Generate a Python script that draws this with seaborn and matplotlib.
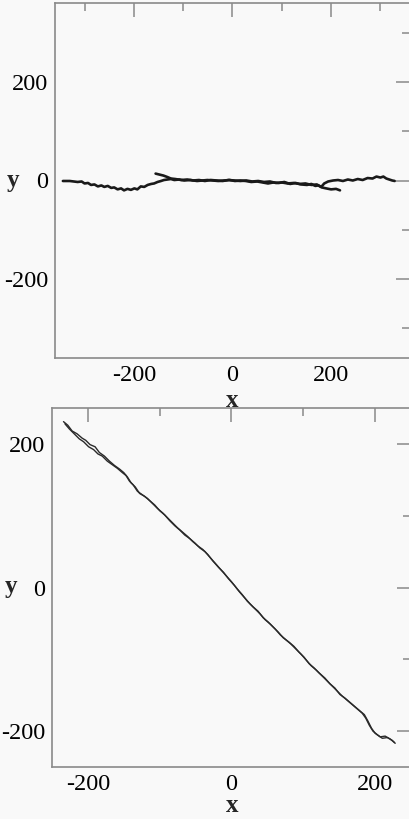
import numpy as np
import pandas as pd
import matplotlib
matplotlib.use("Agg")
import matplotlib.pyplot as plt
import seaborn as sns
from matplotlib.ticker import MultipleLocator

# ---- data: top panel (two strands lying along y ~ 0) ----
top_a_x = [-344, -330, -314, -306, -300, -293, -287, -280, -273, -266, -260, -253, -246, -240,
           -233, -226, -220, -213, -206, -199, -193, -186, -179, -172, -165, -159, -152, -145,
           -139, -132, -125, -118, -108, -98, -85, -72, -61, -51, -40, -29, -17, -6, 5, 16,
           27, 38, 50, 61, 72, 83, 94, 105, 117, 128, 139, 151, 160, 168, 174, 181, 190, 200, 210, 218]
top_a_y = [-1, -1, -3, -2, -6, -5, -9, -8, -12, -10, -13, -11, -15, -14,
           -18, -16, -20, -17, -19, -16, -18, -12, -13, -9, -7, -6, -3, -1,
           1, 2, 3, 1, 2, 0, 1, -1, 0, 1, 0, -1, 0, 1, -1, 0,
           -1, -3, -2, -4, -6, -4, -5, -3, -7, -5, -8, -9, -7, -11, -10, -14, -16, -18, -17, -20]
top_b_x = [-156, -148, -140, -132, -125, -116, -104, -92, -80, -68, -56, -44, -32, -20, -8, 4,
           16, 28, 40, 52, 64, 76, 88, 100, 112, 124, 136, 148, 160, 171, 180, 186, 194, 204,
           214, 224, 234, 244, 254, 264, 274, 284, 292, 300, 306, 312, 318, 324, 329]
top_b_y = [14, 12, 10, 7, 4, 3, 1, 2, 0, 1, -1, 1, 0, -1, 1, 0,
           -1, 0, -2, -1, -3, -2, -5, -4, -6, -5, -7, -6, -9, -8, -13, -6, -2, 0,
           1, -1, 2, 0, 3, 1, 5, 4, 8, 6, 8, 4, 2, 0, -1]

# ---- data: bottom panel (two strands along the diagonal) ----
bot_a_x = [-234, -228, -222, -215, -208, -203, -197, -190, -184, -177, -170, -163, -156, -150,
           -145, -140, -134, -128, -121, -114, -107, -100, -93, -86, -79, -72, -65, -58, -51,
           -44, -37, -30, -22, -15, -8, 0, 8, 15, 22, 30, 37, 44, 51, 58, 65, 72, 80, 87, 94,
           101, 108, 115, 122, 130, 137, 144, 151, 158, 165, 172, 179, 185, 190, 195, 200, 207,
           214, 221, 227]
bot_a_y = [231, 226, 218, 214, 208, 205, 199, 196, 188, 183, 176, 170, 165, 160,
           154, 146, 140, 131, 127, 121, 115, 107, 101, 93, 86, 80, 73, 68, 62,
           55, 50, 42, 33, 25, 17, 8, -2, -10, -19, -27, -33, -42, -48, -55, -62, -70, -76, -82, -90,
           -97, -106, -112, -119, -126, -134, -140, -149, -154, -160, -166, -172, -177, -186, -196, -203, -208,
           -207, -211, -216]
bot_b_x = [-232, -226, -219, -212, -206, -199, -192, -186, -180, -173, -166, -159, -152, -147,
           -142, -137, -131, -124, -117, -110, -103, -96, -89, -82, -75, -68, -61, -54, -47,
           -40, -33, -26, -18, -11, -4, 4, 11, 18, 26, 33, 40, 47, 54, 61, 68, 76, 83, 90, 97,
           104, 111, 118, 126, 133, 140, 147, 154, 161, 168, 175, 182, 187, 192, 197, 203, 210,
           217, 224, 228]
bot_b_y = [228, 221, 214, 207, 203, 196, 192, 186, 183, 176, 171, 166, 160, 156,
           148, 143, 134, 129, 124, 117, 110, 104, 97, 90, 83, 77, 71, 64, 58,
           53, 46, 37, 28, 21, 12, 3, -6, -14, -23, -30, -37, -45, -51, -58, -66, -73, -79, -86, -93,
           -101, -109, -115, -123, -130, -137, -144, -151, -157, -163, -169, -175, -182, -192, -200, -205,
           -210, -209, -213, -217]

top_df = pd.concat([
    pd.DataFrame({"x": top_a_x, "y": top_a_y, "strand": "a"}),
    pd.DataFrame({"x": top_b_x, "y": top_b_y, "strand": "b"}),
])
bot_df = pd.concat([
    pd.DataFrame({"x": bot_a_x, "y": bot_a_y, "strand": "a"}),
    pd.DataFrame({"x": bot_b_x, "y": bot_b_y, "strand": "b"}),
])

sns.set_style("white")
plt.rcParams["font.family"] = ["Liberation Serif", "DejaVu Serif"]
plt.rcParams["axes.unicode_minus"] = False

bg = "#f9f9f9"
spine_col = "#8a8a8a"
W, H = 409, 819
fig = plt.figure(figsize=(W / 100, H / 100), dpi=100, facecolor=bg)

ax1 = fig.add_axes([55 / W, 1 - 358 / H, 355 / W, 355 / H])
ax2 = fig.add_axes([52 / W, 1 - 767 / H, 359 / W, 359 / H])

sns.lineplot(data=top_df, x="x", y="y", units="strand", estimator=None, sort=False,
             color="#1a1a1a", linewidth=1.9, ax=ax1)
sns.lineplot(data=bot_df, x="x", y="y", units="strand", estimator=None, sort=False,
             color="#2a2a2a", linewidth=1.0, ax=ax2)

for ax, lim in ((ax1, 360), (ax2, 250)):
    ax.set_facecolor(bg)
    ax.set_xlim(-lim, lim)
    ax.set_ylim(-lim, lim)
    ax.xaxis.set_major_locator(MultipleLocator(200))
    ax.yaxis.set_major_locator(MultipleLocator(200))
    ax.xaxis.set_minor_locator(MultipleLocator(100))
    ax.yaxis.set_minor_locator(MultipleLocator(100))
    ax.tick_params(which="both", direction="in", top=True, right=True, color=spine_col,
                   labelsize=17.5, labelcolor="black")
    ax.tick_params(which="major", length=10, width=1.1, pad=5)
    ax.tick_params(which="minor", length=6, width=1.1)
    for s in ax.spines.values():
        s.set_color(spine_col)
        s.set_linewidth(1.2)
    ax.set_xlabel("")
    ax.set_ylabel("")

lab = dict(fontsize=18, fontweight="bold", ha="center", va="center")
fig.text(232 / W, 1 - 400 / H, "x", **lab)
fig.text(13 / W, 1 - 180 / H, "y", **lab)
fig.text(232 / W, 1 - 805 / H, "x", **lab)
fig.text(11 / W, 1 - 587 / H, "y", **lab)

fig.savefig("out.png", dpi=100, facecolor=bg)
